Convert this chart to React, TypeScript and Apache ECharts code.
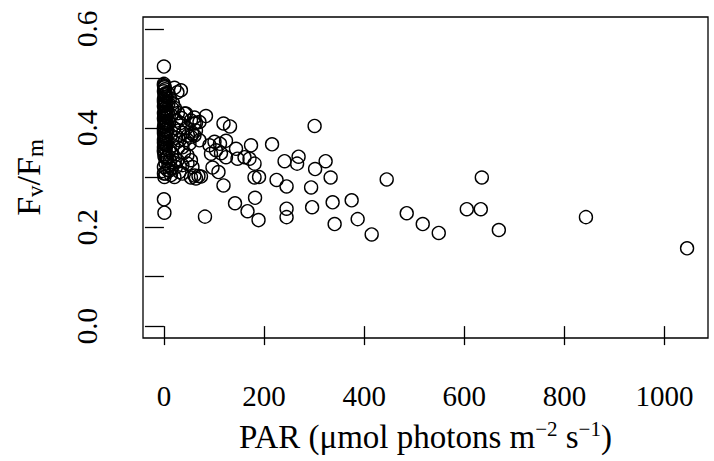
import React, { useEffect, useRef } from "react";
import * as echarts from "echarts";

// PAR (µmol photons m-2 s-1) and Fv/Fm
const parValues: number[] = [
  1045, 843, 669, 635, 633, 605, 549, 517, 485, 445, 415, 387, 375, 341, 337, 333, 323,
  84, 119, 132, 301, 216, 174, 144, 91, 101, 112, 104, 94, 114, 124, 147, 161, 171, 181,
  241, 269, 266, 302, 97, 109, 74, 181, 190, 225, 245, 294, 119, 182, 142, 167, 245, 245,
  296, 82, 189, 71, 61, 64, 57, 54, 64, 44, 54, 69, 124, 37, 47, 0, 1,
  0, 0, 34, 27, 21, 41, 54, 61, 61, 71, 31, 37, 51, 0, 7, 17, 27, 47, 54, 57,
  0, 7, 1, 0, 24, 31, 37, 21, 61, 64, 3, 11,
  0, 1, 2, 0, 3, 1, 4, 0, 2, 5, 1, 0, 3, 6, 2, 0, 1, 4, 0, 2, 3, 5, 1, 0, 2, 6, 0, 1, 3, 4,
  0, 2, 1, 5, 0, 3, 8, 10, 7, 9, 0, 2, 1, 4,
  12, 18, 22, 28, 15, 25, 33, 20, 30, 38, 14, 24, 42, 18, 28, 10, 45, 35, 48, 40, 12, 20, 5,
  3, 9, 15, 14, 8, 16, 6,
  1, 3, 0, 2, 4, 1, 0, 3, 2, 5, 0, 1,
];
const fvfmValues: number[] = [
  0.157, 0.22, 0.194, 0.3, 0.236, 0.236, 0.188, 0.206, 0.228, 0.296, 0.185, 0.216, 0.254, 0.206,
  0.25, 0.3, 0.333,
  0.424, 0.409, 0.403, 0.404, 0.367, 0.365, 0.358, 0.365, 0.372, 0.368, 0.355, 0.348, 0.349,
  0.341, 0.338, 0.341, 0.338, 0.328, 0.333, 0.342, 0.328, 0.317, 0.32, 0.311, 0.302, 0.3,
  0.301, 0.295, 0.282, 0.28, 0.284, 0.259, 0.248, 0.232, 0.237, 0.22, 0.24, 0.221, 0.214,
  0.412, 0.421, 0.41, 0.388, 0.382, 0.395, 0.429, 0.3, 0.303, 0.374, 0.325, 0.328, 0.256, 0.229,
  0.524, 0.489, 0.476, 0.472, 0.481, 0.429, 0.415, 0.409, 0.385, 0.375, 0.375, 0.361, 0.368,
  0.355, 0.341, 0.348, 0.335, 0.345, 0.335, 0.321,
  0.321, 0.315, 0.301, 0.308, 0.321, 0.311, 0.308, 0.301, 0.304, 0.298, 0.308, 0.314,
  0.486, 0.482, 0.478, 0.474, 0.47, 0.466, 0.462, 0.458, 0.455, 0.451, 0.447, 0.444, 0.44,
  0.437, 0.433, 0.43, 0.426, 0.422, 0.419, 0.415, 0.412, 0.408, 0.404, 0.401, 0.397, 0.393,
  0.39, 0.386, 0.383, 0.379,
  0.376, 0.372, 0.368, 0.365, 0.361, 0.358, 0.43, 0.41, 0.395, 0.45, 0.352, 0.347, 0.343, 0.339,
  0.46, 0.45, 0.44, 0.43, 0.425, 0.415, 0.41, 0.4, 0.395, 0.39, 0.385, 0.38, 0.375, 0.365,
  0.36, 0.355, 0.4, 0.42, 0.385, 0.35, 0.335, 0.33, 0.34,
  0.33, 0.325, 0.318, 0.305, 0.47, 0.44, 0.41,
  0.484, 0.468, 0.453, 0.439, 0.424, 0.41, 0.396, 0.381, 0.367, 0.428, 0.37, 0.45,
];

const xTicks = [0, 200, 400, 600, 800, 1000];
const yTicks = [0, 0.1, 0.2, 0.3, 0.4, 0.5, 0.6];
const yLabels = [0, 0.2, 0.4, 0.6];

const FONT = "Liberation Serif";

export default function App() {
  const ref = useRef<HTMLDivElement>(null);
  useEffect(() => {
    if (!ref.current) return;
    const chart = echarts.init(ref.current, null, { renderer: "svg" });
    const data = parValues.map((x, i) => [x, fvfmValues[i]]);
    chart.setOption({
      animation: false,
      backgroundColor: "#fff",
      grid: {
        left: 143,
        top: 17,
        width: 565,
        height: 321,
        show: true,
        borderColor: "#000",
        borderWidth: 1.3,
        backgroundColor: "transparent",
      },
      xAxis: {
        type: "value",
        min: -41.8,
        max: 1086.8,
        splitLine: { show: false },
        axisLine: { show: false },
        axisTick: {
          show: true,
          length: 19,
          customValues: xTicks,
          lineStyle: { color: "#000", width: 1.3 },
        },
        axisLabel: {
          customValues: xTicks,
          margin: 43,
          color: "#000",
          fontFamily: FONT,
          fontSize: 29,
          formatter: (v: number) => String(v),
        },
        name: "{a|PAR (μmol photons m}{s|−2}{a| s}{s|−1}{a|)}",
        nameLocation: "middle",
        nameGap: 80,
        nameTextStyle: {
          fontFamily: FONT,
          color: "#000",
          rich: {
            a: { fontFamily: FONT, fontSize: 33, lineHeight: 38, color: "#000" },
            s: {
              fontFamily: FONT,
              fontSize: 21,
              lineHeight: 21,
              verticalAlign: "top",
              color: "#000",
            },
          },
        },
      },
      yAxis: {
        type: "value",
        min: -0.024,
        max: 0.624,
        splitLine: { show: false },
        axisLine: { show: false },
        axisTick: {
          show: true,
          length: 19,
          customValues: yTicks,
          lineStyle: { color: "#000", width: 1.3 },
        },
        axisLabel: {
          customValues: yLabels,
          rotate: 90,
          margin: 42,
          color: "#000",
          fontFamily: FONT,
          fontSize: 29,
          formatter: (v: number) => v.toFixed(1),
        },
        name: "{a|F}{b|v}{a|/F}{b|m}",
        nameLocation: "middle",
        nameRotate: 90,
        nameGap: 96,
        nameTextStyle: {
          fontFamily: FONT,
          color: "#000",
          rich: {
            a: { fontFamily: FONT, fontSize: 34, lineHeight: 38, color: "#000" },
            b: {
              fontFamily: FONT,
              fontSize: 23,
              lineHeight: 23,
              verticalAlign: "bottom",
              color: "#000",
            },
          },
        },
      },
      series: [
        {
          type: "scatter",
          data,
          symbol: "circle",
          symbolSize: 13,
          itemStyle: {
            color: "rgba(0,0,0,0)",
            borderColor: "#000",
            borderWidth: 1.4,
            opacity: 1,
          },
          emphasis: { disabled: true },
        },
      ],
    });
    return () => chart.dispose();
  }, []);
  return (
    <div
      ref={ref}
      style={{ position: "fixed", left: 0, top: 0, width: 714, height: 461, background: "#fff" }}
    />
  );
}
